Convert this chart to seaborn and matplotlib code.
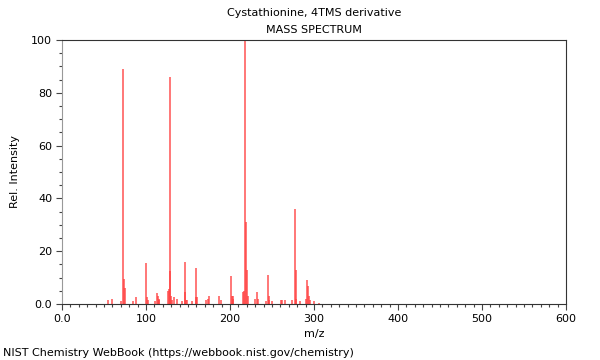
import numpy as np
import pandas as pd
import seaborn as sns
import matplotlib
matplotlib.use("Agg")
import matplotlib.pyplot as plt
from matplotlib.ticker import MultipleLocator

# Peak list (m/z, relative intensity)
mz = [55, 59, 70, 73, 74, 75, 84, 88, 100, 101, 102, 111, 113, 114, 115, 116,
      126, 127, 128, 129, 130, 131, 133, 137, 143, 146, 147, 148, 149, 155,
      159, 160, 161, 172, 174, 175, 187, 189, 201, 202, 203, 204, 216, 217,
      218, 219, 220, 221, 230, 232, 233, 243, 245, 246, 247, 250, 261, 262,
      266, 274, 277, 278, 279, 283, 290, 292, 293, 294, 295, 300, 306]
intensity = [1.5, 2.0, 1.0, 89, 9.5, 6.0, 1.0, 2.5, 15.5, 2.5, 1.5, 1.0, 4.0,
             3.0, 2.0, 1.5, 5.0, 5.5, 86, 12.5, 3.0, 1.5, 2.5, 2.0, 1.0, 16,
             4.5, 1.5, 1.5, 1.0, 13.5, 2.5, 2.5, 1.5, 2.0, 3.0, 3.0, 1.5, 10.5,
             3.0, 3.0, 2.0, 4.5, 5.0, 100, 31, 13, 3.0, 2.0, 4.5, 2.0, 1.0, 11,
             3.0, 1.5, 1.0, 1.5, 1.5, 1.5, 1.5, 36, 13, 2.0, 1.0, 2.0, 9.0,
             7.0, 3.0, 1.5, 1.0, 0.5]

title = "Cystathionine, 4TMS derivative"
subtitle = "MASS SPECTRUM"
footer = "NIST Chemistry WebBook (https://webbook.nist.gov/chemistry)"

df = pd.DataFrame({"mz": mz, "intensity": intensity})

sns.set_style("white")
plt.rcParams["font.family"] = ["DejaVu Sans"]
plt.rcParams["font.size"] = 8
plt.rcParams["text.color"] = "black"
plt.rcParams["axes.labelcolor"] = "black"
plt.rcParams["xtick.color"] = "black"
plt.rcParams["ytick.color"] = "black"

fig = plt.figure(figsize=(6, 3.6), dpi=100)
ax = fig.add_axes([62 / 600, 1 - 304 / 360, 504 / 600, 264 / 360])

# stick spectrum: one vertical line per peak
ax.vlines(df["mz"], 0, df["intensity"], colors="#ff4040", linewidth=1.1,
          alpha=0.9)
sns.despine(ax=ax, top=False, right=False)

ax.set_xlim(0, 600)
ax.set_ylim(0, 100)
ax.set_xticks(range(0, 601, 100))
ax.set_xticklabels(["0.0"] + [str(v) for v in range(100, 601, 100)])
ax.set_yticks(range(0, 101, 20))
ax.set_yticklabels(["0.0"] + [str(v) for v in range(20, 101, 20)])
ax.xaxis.set_minor_locator(MultipleLocator(10))
ax.yaxis.set_minor_locator(MultipleLocator(5))
ax.tick_params(which="major", direction="out", length=4, width=0.8,
               labelsize=8, color="#444444", pad=3, bottom=True, left=True)
ax.tick_params(which="minor", direction="out", length=2.5, width=0.8,
               color="#444444", bottom=True, left=True)
for side in ["top", "right", "bottom"]:
    ax.spines[side].set_color("#333333")
    ax.spines[side].set_linewidth(0.8)
ax.spines["left"].set_color("#999999")
ax.spines["left"].set_linewidth(0.8)

ax.set_xlabel("m/z", fontsize=8, labelpad=4)
ax.set_ylabel("Rel. Intensity", fontsize=8, labelpad=8)

fig.text(314 / 600, 1 - 13 / 360, title, ha="center", va="center", fontsize=8)
fig.text(314 / 600, 1 - 30 / 360, subtitle, ha="center", va="center", fontsize=8)
fig.text(3 / 600, 1 - 353 / 360, footer, ha="left", va="center", fontsize=8)

fig.savefig("out.png", dpi=100)
